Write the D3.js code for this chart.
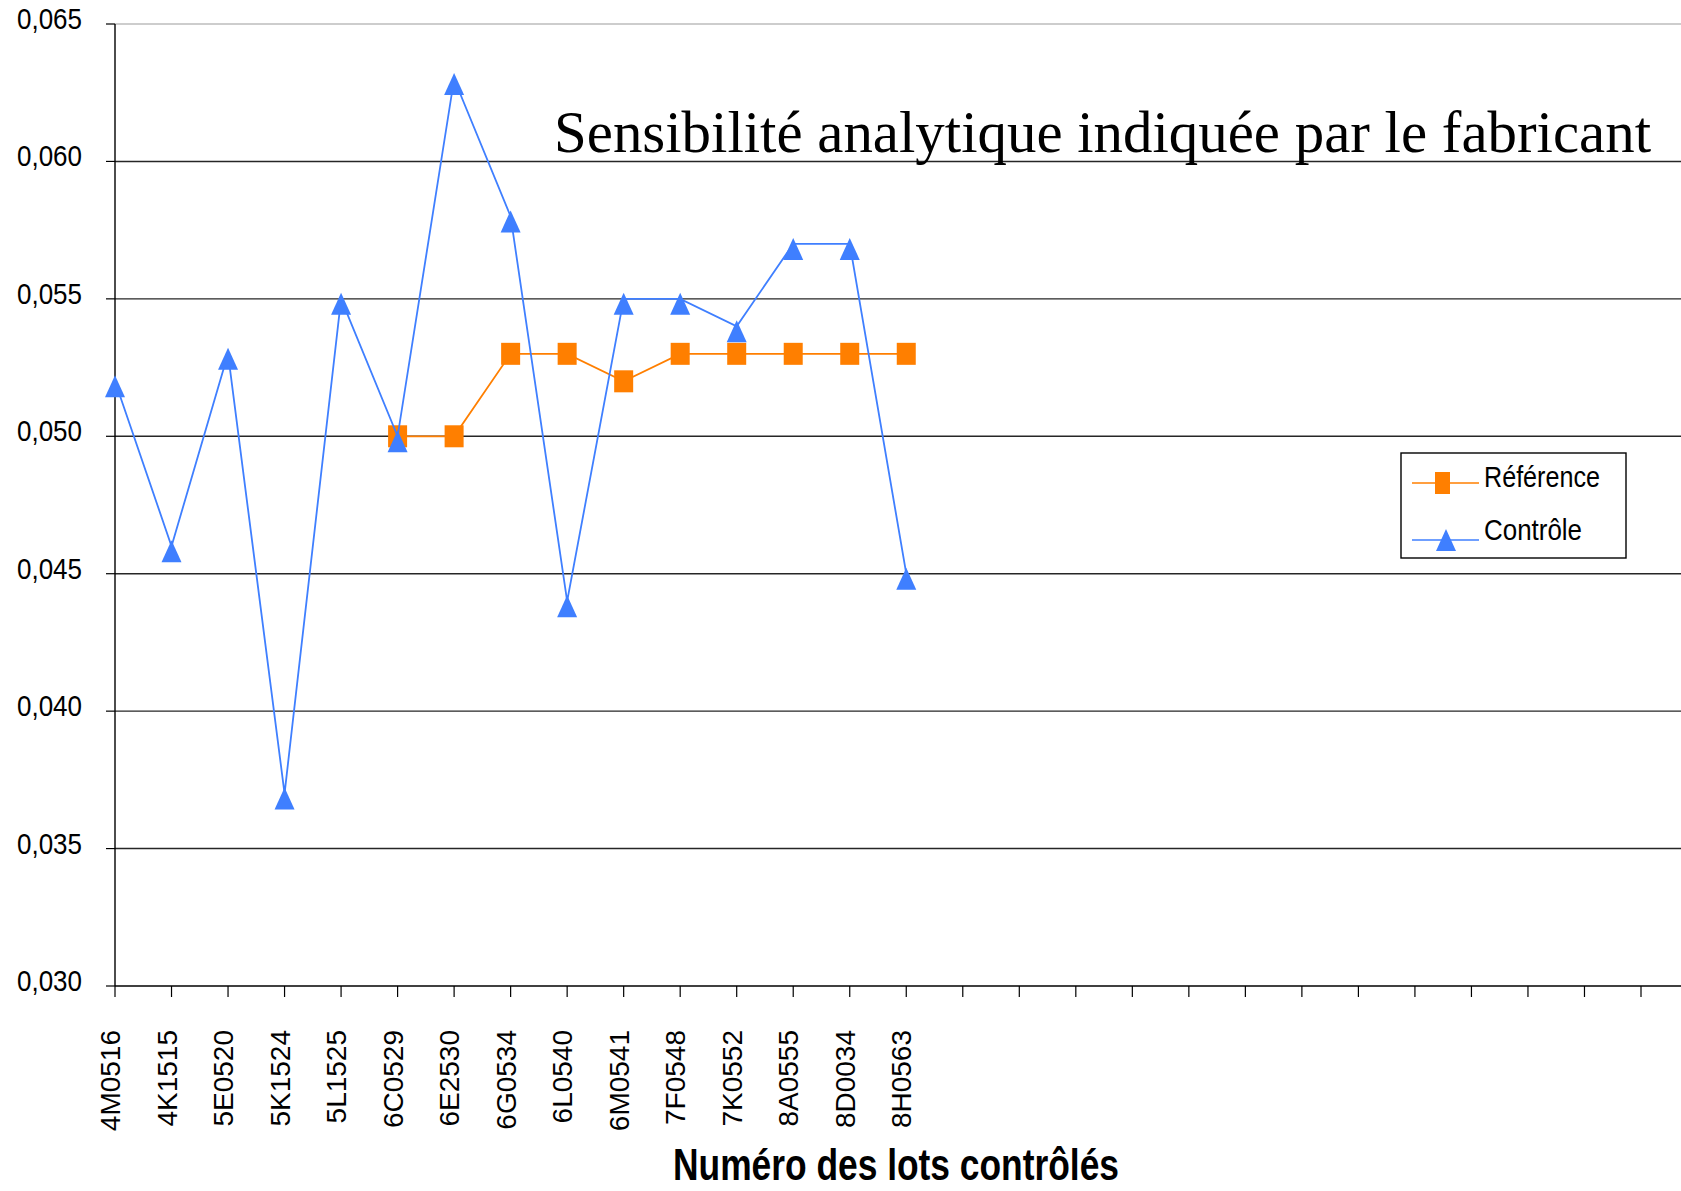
<!DOCTYPE html>
<html>
<head>
<meta charset="utf-8">
<script src="https://cdn.jsdelivr.net/npm/d3@7"></script>
<style>
body{margin:0;background:#ffffff;}
text{font-family:"Liberation Sans",Arial,sans-serif;fill:#000;}
</style>
</head>
<body>
<div id="chart"></div>
<script>
var lots = ["4M0516","4K1515","5E0520","5K1524","5L1525","6C0529","6E2530","6G0534",
            "6L0540","6M0541","7F0548","7K0552","8A0555","8D0034","8H0563"];
var reference = [null,null,null,null,null,0.050,0.050,0.053,0.053,0.052,0.053,0.053,0.053,0.053,0.053];
var controle = [0.052,0.046,0.053,0.037,0.055,0.050,0.063,0.058,0.044,0.055,0.055,0.054,0.057,0.057,0.045];
var yTicks = [0.030,0.035,0.040,0.045,0.050,0.055,0.060,0.065];
var slotCount = 28;
var chartTitle = "Sensibilité analytique indiquée par le fabricant";
var xTitle = "Numéro des lots contrôlés";
var legendNames = ["Référence","Contrôle"];

var refColor = "#ff7f00";
var ctrlColor = "#3f7fff";
var gridColor = "#262626";

var svgWidth = 1681, svgHeight = 1191;
var plotLeft = 115, plotRight = 1681, plotTop = 24, plotBottom = 986;

var svg = d3.select("#chart")
            .append("svg")
            .attr("width",svgWidth)
            .attr("height",svgHeight);

var x = d3.scaleLinear()
          .domain([0,slotCount-1])
          .range([plotLeft,1641]);
var y = d3.scaleLinear()
          .domain([0.030,0.065])
          .range([plotBottom,plotTop]);

var fmt = d3.formatLocale({decimal:",",thousands:" ",grouping:[3],currency:["","€"]}).format(".3f");

// grid lines
svg.append("g")
   .selectAll("line")
   .data(yTicks.slice(1))
   .enter()
   .append("line")
   .attr("x1",plotLeft)
   .attr("x2",plotRight)
   .attr("y1",function(d){ return y(d); })
   .attr("y2",function(d){ return y(d); })
   .attr("stroke",function(d){ return d === 0.065 ? "#bdbdbd" : gridColor; })
   .attr("stroke-width",1.4);

// y axis
svg.append("line")
   .attr("x1",plotLeft).attr("x2",plotLeft)
   .attr("y1",plotTop).attr("y2",plotBottom)
   .attr("stroke","#000").attr("stroke-width",1.4);
svg.append("g")
   .selectAll("line")
   .data(yTicks)
   .enter()
   .append("line")
   .attr("x1",plotLeft-9).attr("x2",plotLeft)
   .attr("y1",function(d){ return y(d); })
   .attr("y2",function(d){ return y(d); })
   .attr("stroke","#000").attr("stroke-width",1.2);
svg.append("g")
   .selectAll("text")
   .data(yTicks)
   .enter()
   .append("text")
   .attr("x",82)
   .attr("y",function(d){ return y(d)+5; })
   .attr("text-anchor","end")
   .attr("font-size",30)
   .attr("textLength",65)
   .attr("lengthAdjust","spacingAndGlyphs")
   .text(function(d){ return fmt(d); });

// x axis
svg.append("line")
   .attr("x1",plotLeft).attr("x2",plotRight)
   .attr("y1",plotBottom).attr("y2",plotBottom)
   .attr("stroke","#000").attr("stroke-width",1.6);
svg.append("g")
   .selectAll("line")
   .data(d3.range(slotCount))
   .enter()
   .append("line")
   .attr("x1",function(d){ return x(d); })
   .attr("x2",function(d){ return x(d); })
   .attr("y1",plotBottom).attr("y2",plotBottom+11)
   .attr("stroke","#000").attr("stroke-width",1.2);
svg.append("g")
   .selectAll("text")
   .data(lots)
   .enter()
   .append("text")
   .attr("transform",function(d,i){
       return "translate(" + (x(i)+5) + ",1030) rotate(-90)";
   })
   .attr("text-anchor","end")
   .attr("font-size",28)
   .text(function(d){ return d; });

svg.append("text")
   .attr("x",896)
   .attr("y",1180)
   .attr("text-anchor","middle")
   .attr("font-size",44)
   .attr("font-weight","bold")
   .attr("textLength",446)
   .attr("lengthAdjust","spacingAndGlyphs")
   .text(xTitle);

// title inside plot
svg.append("text")
   .attr("x",554)
   .attr("y",152)
   .attr("font-size",59)
   .attr("textLength",1097)
   .attr("lengthAdjust","spacingAndGlyphs")
   .style("font-family","'Liberation Serif','Times New Roman',serif")
   .text(chartTitle);

// series
var refLine = d3.line()
                .defined(function(d){ return d !== null; })
                .x(function(d,i){ return x(i); })
                .y(function(d){ return y(d); });

svg.append("path")
   .attr("d",refLine(reference))
   .attr("fill","none")
   .attr("stroke",refColor)
   .attr("stroke-width",1.8);
svg.append("g")
   .selectAll("rect")
   .data(reference.map(function(d,i){ return {v:d,i:i}; }).filter(function(d){ return d.v !== null; }))
   .enter()
   .append("rect")
   .attr("x",function(d){ return x(d.i)-9.5; })
   .attr("y",function(d){ return y(d.v)-11; })
   .attr("width",19)
   .attr("height",22)
   .attr("fill",refColor);

svg.append("path")
   .attr("d",refLine(controle))
   .attr("fill","none")
   .attr("stroke",ctrlColor)
   .attr("stroke-width",1.8);
svg.append("g")
   .selectAll("path")
   .data(controle)
   .enter()
   .append("path")
   .attr("d",function(d,i){
       var cx = x(i), cy = y(d);
       return "M" + cx + "," + (cy-6) + "L" + (cx+10) + "," + (cy+16) + "L" + (cx-10) + "," + (cy+16) + "Z";
   })
   .attr("fill",ctrlColor);

// legend
var legend = svg.append("g");
legend.append("rect")
      .attr("x",1401).attr("y",453)
      .attr("width",225).attr("height",105)
      .attr("fill","#fff")
      .attr("stroke","#000")
      .attr("stroke-width",1.4);
var legendY = [483,540];
var legendColors = [refColor,ctrlColor];
legend.selectAll("line")
      .data(legendNames)
      .enter()
      .append("line")
      .attr("x1",1412).attr("x2",1479)
      .attr("y1",function(d,i){ return legendY[i]; })
      .attr("y2",function(d,i){ return legendY[i]; })
      .attr("stroke",function(d,i){ return legendColors[i]; })
      .attr("stroke-width",1.6);
legend.append("rect")
      .attr("x",1435).attr("y",legendY[0]-11)
      .attr("width",15).attr("height",22)
      .attr("fill",refColor);
legend.append("path")
      .attr("d","M1446," + (legendY[1]-11) + "L1456," + (legendY[1]+11) + "L1436," + (legendY[1]+11) + "Z")
      .attr("fill",ctrlColor);
legend.selectAll("text")
      .data(legendNames)
      .enter()
      .append("text")
      .attr("x",1484)
      .attr("y",function(d,i){ return i === 0 ? 487 : 540; })
      .attr("font-size",30)
      .attr("textLength",function(d,i){ return i === 0 ? 116 : 98; })
      .attr("lengthAdjust","spacingAndGlyphs")
      .text(function(d){ return d; });
</script>
</body>
</html>
